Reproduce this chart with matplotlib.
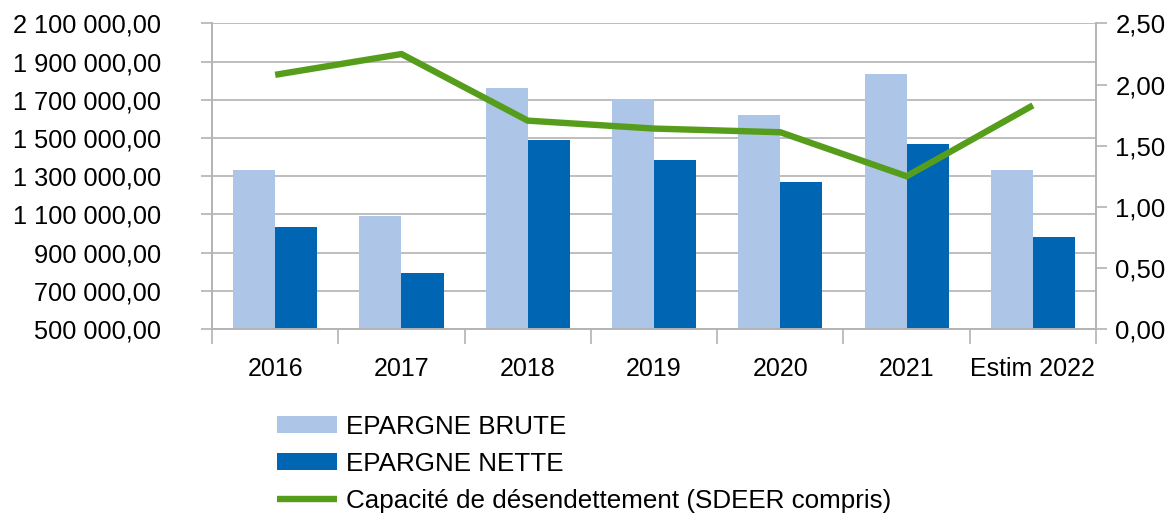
import numpy as np
import matplotlib
matplotlib.use("Agg")
import matplotlib.pyplot as plt
from matplotlib.ticker import FuncFormatter, FixedLocator

plt.rcParams['font.family'] = ['Liberation Sans', 'DejaVu Sans']

categories = ['2016', '2017', '2018', '2019', '2020', '2021', 'Estim 2022']
epargne_brute = [1330600, 1091400, 1761400, 1703800, 1620100, 1834700, 1331000]
epargne_nette = [1033900, 793100, 1489200, 1384500, 1269400, 1468300, 981500]
capacite = [2.08, 2.25, 1.705, 1.64, 1.61, 1.25, 1.83]


def fr_number(v, pos=None):
    s = f"{v:,.2f}"
    return s.replace(',', ' ').replace('.', ',')


fig = plt.figure(figsize=(11.67, 5.15), dpi=100)
ax = fig.add_axes([0.1817, 0.3612, 0.9392 - 0.1817, 0.9544 - 0.3612])
ax2 = ax.twinx()

x = np.arange(len(categories))
w = 1 / 3
grey = '#b3b3b3'
fs = 18

ax.bar(x - w / 2, epargne_brute, w, color='#adc5e7', label='EPARGNE BRUTE', zorder=2)
ax.bar(x + w / 2, epargne_nette, w, color='#0066b3', label='EPARGNE NETTE', zorder=2)
ax2.plot(x, capacite, color='#579d1c', lw=4.6, solid_capstyle='butt',
         solid_joinstyle='miter', label='Capacité de désendettement (SDEER compris)')

ax.set_xlim(-0.5, len(categories) - 0.5)
ax.set_ylim(500000, 2100000)
ax.set_yticks(np.arange(500000, 2100001, 200000))
ax.yaxis.set_major_formatter(FuncFormatter(fr_number))
ax.grid(axis='y', color=grey, lw=1.2)
ax.set_axisbelow(True)

ax2.set_ylim(0, 2.5)
ax2.set_yticks(np.arange(0, 2.51, 0.5))
ax2.yaxis.set_major_formatter(FuncFormatter(lambda v, p: f"{v:.2f}".replace('.', ',')))

# category boundaries as major ticks, labels on minor ticks at centers
ax.xaxis.set_major_locator(FixedLocator(np.arange(-0.5, len(categories), 1)))
ax.xaxis.set_major_formatter(FuncFormatter(lambda v, p: ''))
ax.xaxis.set_minor_locator(FixedLocator(x))
ax.set_xticklabels(categories, minor=True)
ax.tick_params(axis='x', which='major', length=11, color=grey, width=1.2)
ax.tick_params(axis='x', which='minor', length=0, labelsize=fs, pad=20)
ax.tick_params(axis='y', length=8, color=grey, width=1.2, labelsize=18.3, pad=28.8)
ax2.tick_params(axis='y', length=8, color=grey, width=1.2, labelsize=18.5, pad=6)

for a in (ax, ax2):
    a.spines['top'].set_visible(False)
    for s in ('left', 'right', 'bottom'):
        a.spines[s].set_color(grey)
        a.spines[s].set_linewidth(1.2)

h1, l1 = ax.get_legend_handles_labels()
h2, l2 = ax2.get_legend_handles_labels()
fig.legend(h1 + h2, l1 + l2, loc='upper left', bbox_to_anchor=(277 / 1167, 1 - 415 / 515),
           frameon=False, fontsize=18.7, borderpad=0, borderaxespad=0,
           handlelength=2.3, handleheight=0.62, handletextpad=0.34, labelspacing=0.5)

fig.savefig('out.png', dpi=100)
